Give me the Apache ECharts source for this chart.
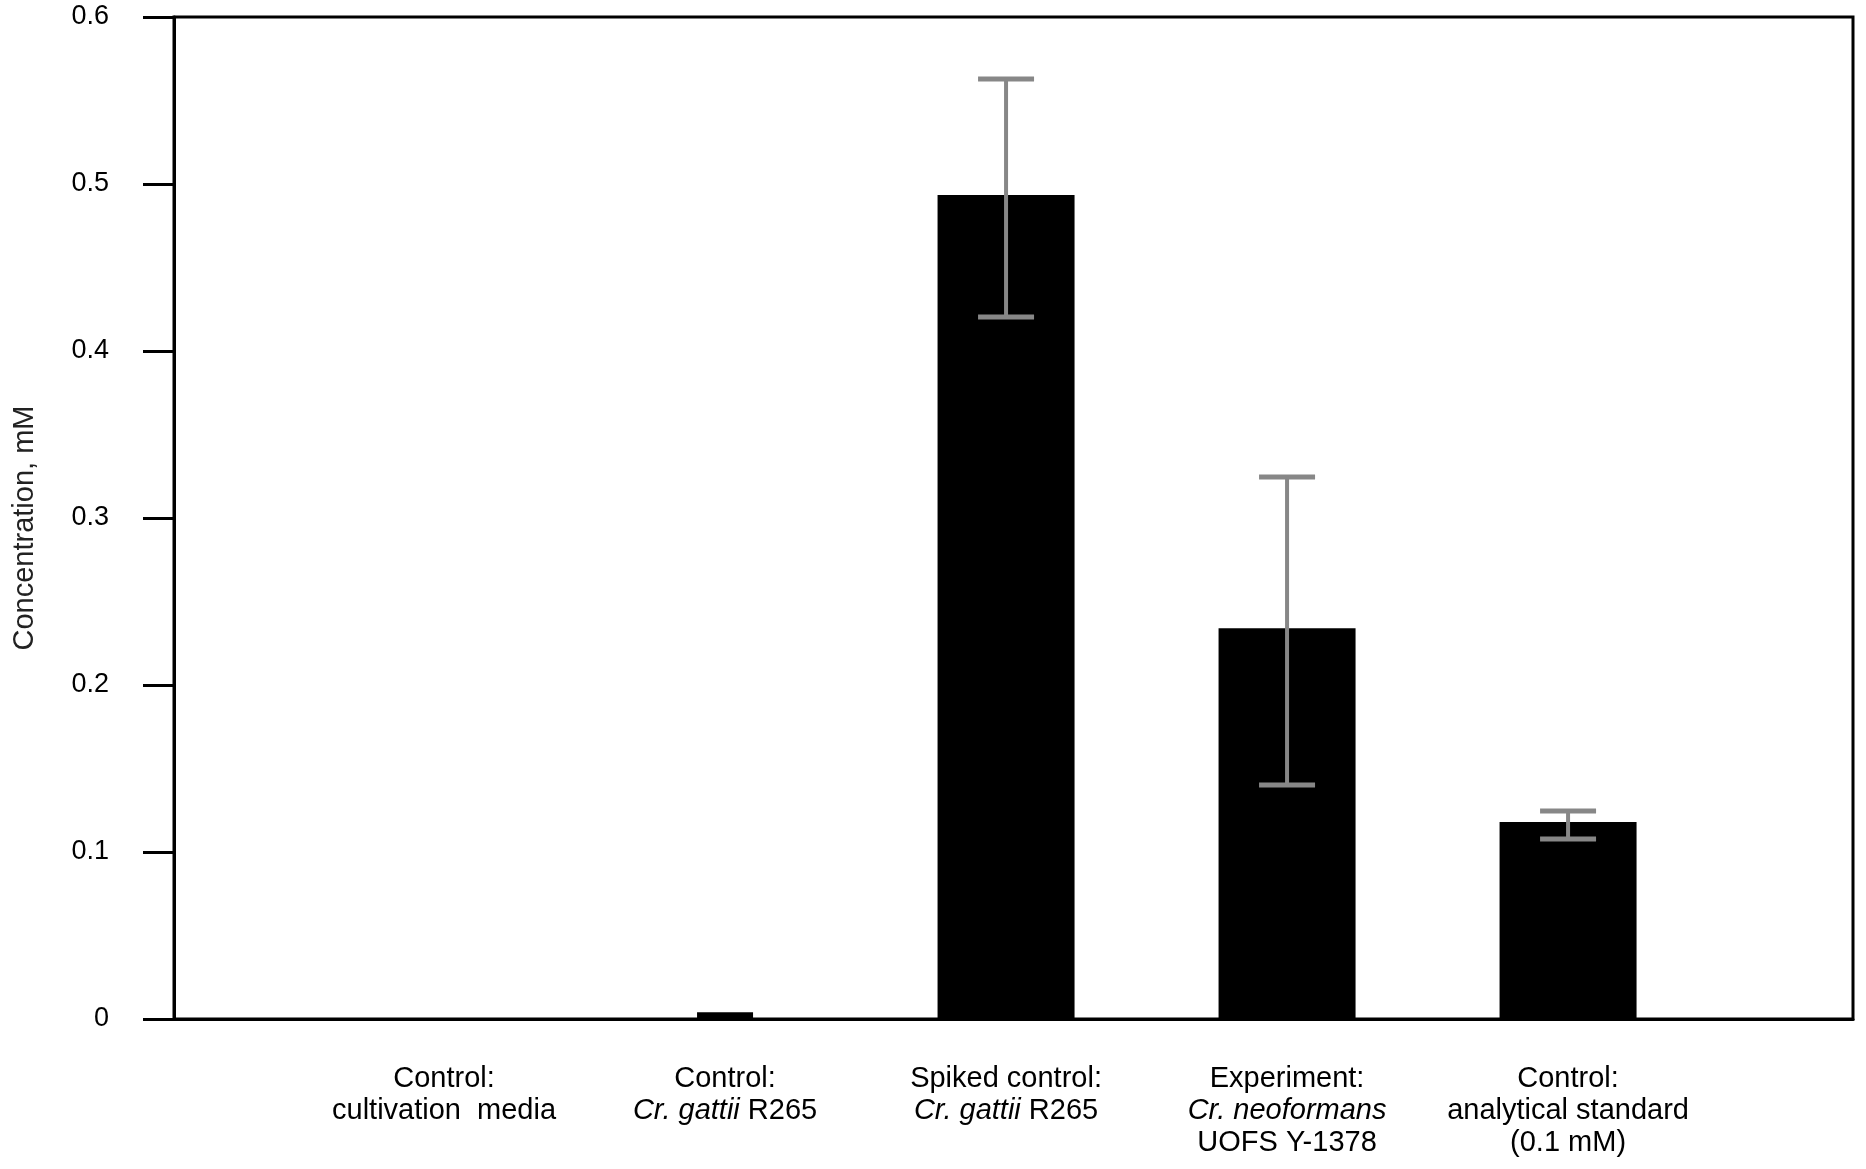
<!DOCTYPE html>
<html>
<head>
<meta charset="utf-8">
<script src="https://cdn.jsdelivr.net/npm/echarts@6/dist/echarts.min.js"></script>
<style>
html,body{margin:0;padding:0;background:#fff;}
#chart{width:1866px;height:1169px;}
</style>
</head>
<body>
<div id="chart"></div>
<script>
// ---- data ----
var categories = [
  'Control:\ncultivation  media',
  'Control:\n{i|Cr. gattii} R265',
  'Spiked control:\n{i|Cr. gattii} R265',
  'Experiment:\n{i|Cr. neoformans}\nUOFS Y-1378',
  'Control:\nanalytical standard\n(0.1 mM)'
];
var positions = [1, 2, 3, 4, 5];
var means = [0, 0.004, 0.4934, 0.234, 0.118];
var errLow = [null, null, 0.4204, 0.1401, 0.1078];
var errHigh = [null, null, 0.5629, 0.3246, 0.1246];
var yTicks = [0, 0.1, 0.2, 0.3, 0.4, 0.5, 0.6];
var yTitle = 'Concentration, mM';
var thinIndex = 1; // the near-zero bar drawn narrower in the original

// ---- build ----
var mainBars = [], thinBars = [], errData = [];
for (var k = 0; k < positions.length; k++) {
  if (k === thinIndex) thinBars.push([positions[k], means[k]]);
  else if (means[k] > 0) mainBars.push([positions[k], means[k]]);
  if (errLow[k] != null) errData.push([positions[k], errLow[k], errHigh[k]]);
}

var font = 'Liberation Sans, Arial, sans-serif';
var chart = echarts.init(document.getElementById('chart'), null, {renderer: 'canvas'});

var xMin = 0.039, xMax = 6.014;

chart.setOption({
  backgroundColor: '#fff',
  animation: false,
  grid: {
    left: 174, right: 13, top: 17, bottom: 150,
    show: true, borderColor: '#000', borderWidth: 3, backgroundColor: 'transparent'
  },
  xAxis: [{
    type: 'value', min: xMin, max: xMax,
    axisLine: {show: true, lineStyle: {color: '#000', width: 3}},
    axisTick: {show: false},
    splitLine: {show: false},
    axisLabel: {
      show: true,
      customValues: positions,
      margin: 44,
      color: '#000',
      fontFamily: font,
      fontSize: 29,
      lineHeight: 32,
      align: 'center',
      formatter: function (v) {
        var idx = positions.indexOf(Math.round(v));
        return idx >= 0 ? categories[idx] : '';
      },
      rich: {
        i: {fontStyle: 'italic', fontFamily: font, fontSize: 29, lineHeight: 32, color: '#000'}
      }
    }
  }, {
    type: 'value', min: xMin, max: xMax, show: false
  }],
  yAxis: {
    type: 'value', min: 0, max: 0.6, interval: 0.1,
    name: yTitle,
    nameLocation: 'middle',
    nameRotate: 90,
    nameGap: 135,
    nameTextStyle: {fontFamily: font, fontSize: 29, color: '#222', padding: [0, 20, 0, 0]},
    axisLine: {show: true, lineStyle: {color: '#000', width: 3}},
    axisTick: {show: true, inside: false, length: 31, lineStyle: {color: '#000', width: 3}},
    splitLine: {show: false},
    axisLabel: {
      margin: 65, color: '#000', fontFamily: font, fontSize: 27,
      customValues: yTicks,
      formatter: function (v) { return String(Math.round(v * 10) / 10); }
    }
  },
  series: [{
    type: 'bar',
    xAxisIndex: 0,
    data: mainBars,
    barWidth: 137,
    itemStyle: {color: '#000'},
    z: 2
  }, {
    type: 'bar',
    xAxisIndex: 1,
    data: thinBars,
    barWidth: 56,
    itemStyle: {color: '#000'},
    z: 2
  }, {
    type: 'custom',
    xAxisIndex: 0,
    data: errData,
    z: 5,
    renderItem: function (params, api) {
      var x = api.value(0), lo = api.value(1), hi = api.value(2);
      var pLo = api.coord([x, lo]), pHi = api.coord([x, hi]);
      var hw = 28, c = '#878787';
      return {
        type: 'group',
        children: [
          {type: 'line', shape: {x1: pLo[0], y1: pLo[1], x2: pHi[0], y2: pHi[1]}, style: {stroke: c, lineWidth: 4}},
          {type: 'line', shape: {x1: pHi[0] - hw, y1: pHi[1], x2: pHi[0] + hw, y2: pHi[1]}, style: {stroke: c, lineWidth: 5}},
          {type: 'line', shape: {x1: pLo[0] - hw, y1: pLo[1], x2: pLo[0] + hw, y2: pLo[1]}, style: {stroke: c, lineWidth: 5}}
        ]
      };
    }
  }]
});
</script>
</body>
</html>
